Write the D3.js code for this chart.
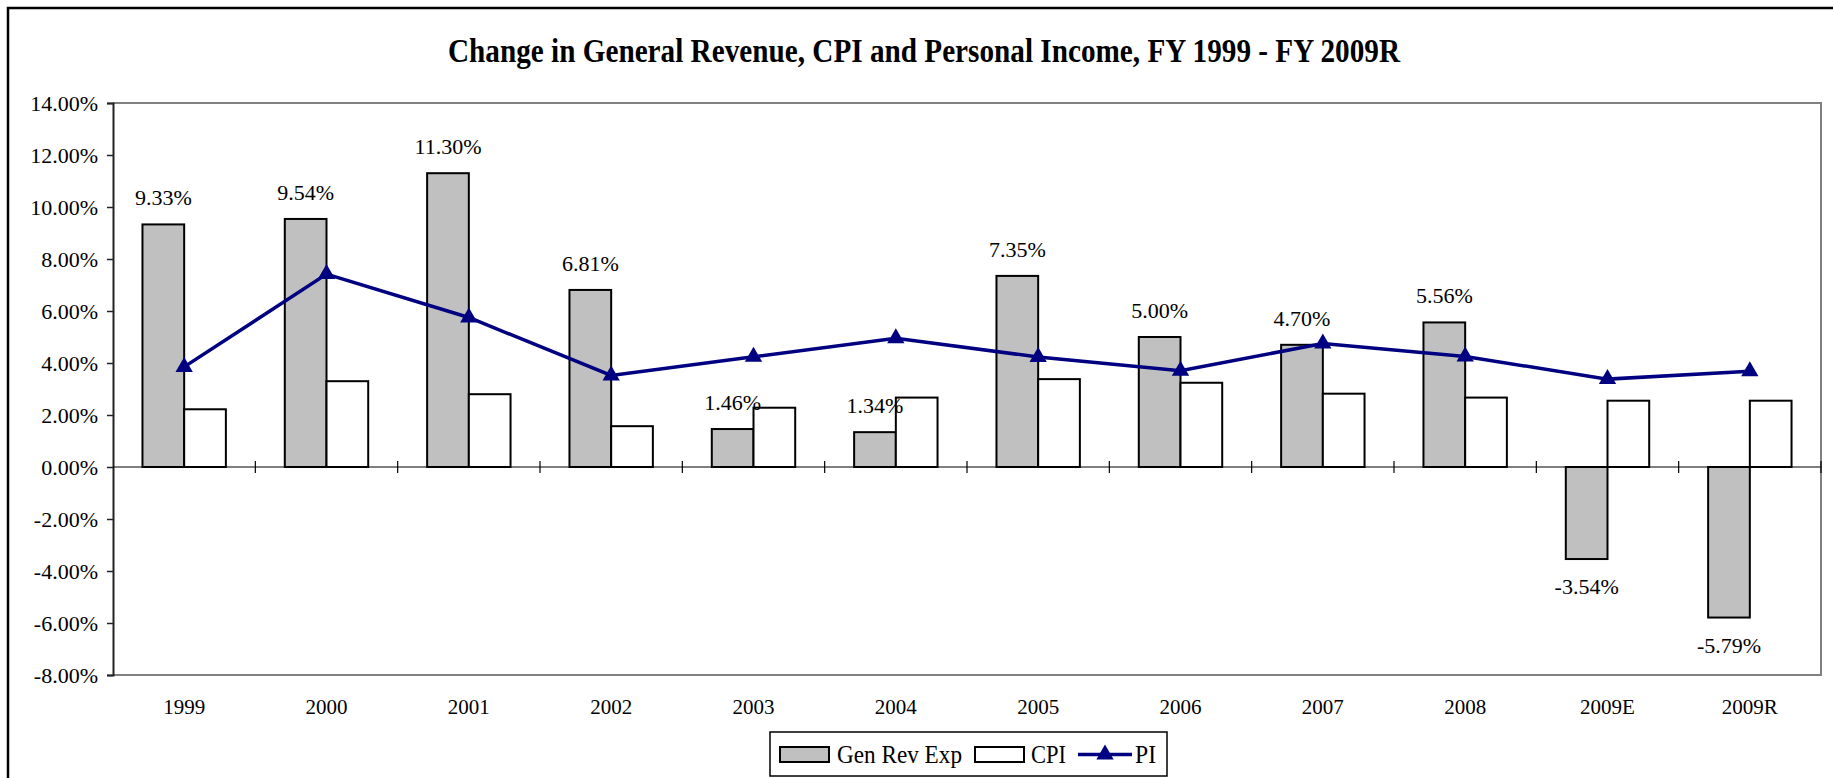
<!DOCTYPE html>
<html lang="en">
<head>
  <meta charset="UTF-8">
  <title>Change in General Revenue, CPI and Personal Income</title>
  <script src="https://d3js.org/d3.v7.min.js"></script>
  <style>
    body { margin: 0; background: #fff; }
    svg { display: block; }
    svg text { font-family: "Liberation Serif", "Times New Roman", serif; fill: #000; }
  </style>
</head>
<body>
  <svg width="1833" height="778"></svg>

  <script>
    // chart data
    const years = ["1999", "2000", "2001", "2002", "2003", "2004", "2005", "2006", "2007", "2008", "2009E", "2009R"];
    const genRev = [9.33, 9.54, 11.30, 6.81, 1.46, 1.34, 7.35, 5.00, 4.70, 5.56, -3.54, -5.79];
    const cpi = [2.22, 3.30, 2.80, 1.57, 2.28, 2.67, 3.38, 3.24, 2.82, 2.67, 2.55, 2.55];
    const pi = [3.85, 7.42, 5.75, 3.52, 4.24, 4.95, 4.23, 3.70, 4.75, 4.25, 3.38, 3.68];
    const yTicks = [-8, -6, -4, -2, 0, 2, 4, 6, 8, 10, 12, 14];

    const svg = d3.select("svg");
    const pLeft = 113, pRight = 1821, pTop = 103, pBottom = 675;

    // outer frame
    svg.append("rect")
      .attr("x", 8).attr("y", 8)
      .attr("width", 1840).attr("height", 800)
      .attr("fill", "none").attr("stroke", "#000").attr("stroke-width", 2.5);

    svg.append("text")
      .attr("x", 924).attr("y", 62)
      .attr("text-anchor", "middle")
      .attr("font-size", "33px")
      .attr("font-weight", "bold")
      .attr("textLength", 952)
      .attr("lengthAdjust", "spacingAndGlyphs")
      .text("Change in General Revenue, CPI and Personal Income, FY 1999 - FY 2009R");

    const x = d3.scaleBand().domain(years).range([pLeft, pRight]).padding(0);
    const y = d3.scaleLinear().domain([-8, 14]).range([pBottom, pTop]);
    const bw = x.bandwidth() * 0.293;
    const cx = d => x(d) + x.bandwidth() / 2;

    // plot area border (grey top/right/bottom)
    svg.append("path")
      .attr("d", `M${pLeft},${pTop}H${pRight}V${pBottom}H${pLeft}`)
      .attr("fill", "none").attr("stroke", "#808080").attr("stroke-width", 2);

    // y axis
    const yAxis = svg.append("g")
      .attr("transform", `translate(${pLeft},0)`)
      .call(d3.axisLeft(y).tickValues(yTicks).tickSize(6).tickPadding(9)
        .tickFormat(d => d.toFixed(2) + "%"));
    yAxis.select(".domain").attr("stroke", "#222").attr("stroke-width", 2);
    yAxis.selectAll(".tick line").attr("stroke", "#222").attr("stroke-width", 1.5);
    yAxis.selectAll("text").attr("font-size", "22px");

    // gen rev bars
    svg.selectAll(".gen")
      .data(years)
      .enter()
      .append("rect")
      .attr("x", d => cx(d) - bw)
      .attr("y", (d, i) => y(Math.max(0, genRev[i])))
      .attr("width", bw)
      .attr("height", (d, i) => Math.abs(y(genRev[i]) - y(0)))
      .attr("fill", "#c0c0c0")
      .attr("stroke", "#000")
      .attr("stroke-width", 2);

    // cpi bars
    svg.selectAll(".cpi")
      .data(years)
      .enter()
      .append("rect")
      .attr("x", d => cx(d))
      .attr("y", (d, i) => y(cpi[i]))
      .attr("width", bw)
      .attr("height", (d, i) => y(0) - y(cpi[i]))
      .attr("fill", "#fff")
      .attr("stroke", "#000")
      .attr("stroke-width", 2);

    // zero line with cross ticks
    svg.append("line")
      .attr("x1", pLeft).attr("x2", pRight)
      .attr("y1", y(0)).attr("y2", y(0))
      .attr("stroke", "#000").attr("stroke-width", 1.2);
    svg.selectAll(".xtick")
      .data(years)
      .enter()
      .append("line")
      .attr("x1", d => x(d) + x.bandwidth()).attr("x2", d => x(d) + x.bandwidth())
      .attr("y1", y(0) - 6).attr("y2", y(0) + 6)
      .attr("stroke", "#000").attr("stroke-width", 1.2);

    // category labels
    svg.selectAll(".xlab")
      .data(years)
      .enter()
      .append("text")
      .attr("x", d => cx(d))
      .attr("y", 714)
      .attr("text-anchor", "middle")
      .attr("font-size", "21px")
      .text(d => d);

    // PI line
    const line = d3.line()
      .x((d, i) => cx(years[i]))
      .y(d => y(d));
    svg.append("path")
      .datum(pi)
      .attr("d", line)
      .attr("fill", "none")
      .attr("stroke", "#000080")
      .attr("stroke-width", 3.5);

    const tri = d3.symbol().type(d3.symbolTriangle).size(130);
    svg.selectAll(".pi")
      .data(pi)
      .enter()
      .append("path")
      .attr("d", tri)
      .attr("transform", (d, i) => `translate(${cx(years[i])},${y(d)})`)
      .attr("fill", "#000080");

    // data labels for gen rev
    svg.selectAll(".lab")
      .data(genRev)
      .enter()
      .append("text")
      .attr("x", (d, i) => cx(years[i]) - bw / 2)
      .attr("y", d => d >= 0 ? y(d) - 19 : y(d) + 35)
      .attr("text-anchor", "middle")
      .attr("font-size", "22px")
      .text(d => d.toFixed(2) + "%");

    // legend
    const lg = svg.append("g");
    lg.append("rect")
      .attr("x", 770).attr("y", 732).attr("width", 397).attr("height", 44)
      .attr("fill", "#fff").attr("stroke", "#000").attr("stroke-width", 1.5);
    lg.append("rect")
      .attr("x", 780).attr("y", 747).attr("width", 49).attr("height", 15)
      .attr("fill", "#c0c0c0").attr("stroke", "#000").attr("stroke-width", 2);
    lg.append("text")
      .attr("x", 837).attr("y", 763).attr("font-size", "25px")
      .attr("textLength", 125).attr("lengthAdjust", "spacingAndGlyphs")
      .text("Gen Rev Exp");
    lg.append("rect")
      .attr("x", 975).attr("y", 747).attr("width", 49).attr("height", 15)
      .attr("fill", "#fff").attr("stroke", "#000").attr("stroke-width", 2);
    lg.append("text")
      .attr("x", 1031).attr("y", 763).attr("font-size", "25px")
      .attr("textLength", 35).attr("lengthAdjust", "spacingAndGlyphs")
      .text("CPI");
    lg.append("line")
      .attr("x1", 1078).attr("x2", 1132).attr("y1", 754.5).attr("y2", 754.5)
      .attr("stroke", "#000080").attr("stroke-width", 3.5);
    lg.append("path")
      .attr("d", tri)
      .attr("transform", "translate(1105,754.5)")
      .attr("fill", "#000080");
    lg.append("text")
      .attr("x", 1135).attr("y", 763).attr("font-size", "25px")
      .attr("textLength", 21).attr("lengthAdjust", "spacingAndGlyphs")
      .text("PI");
  </script>
</body>
</html>
